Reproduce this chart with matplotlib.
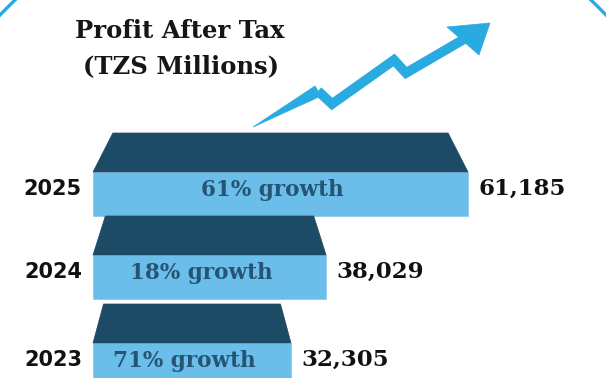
import matplotlib.pyplot as plt
from matplotlib.patches import Polygon, Circle
from matplotlib.lines import Line2D

years = ['2025', '2024', '2023']
profit = [61185, 38029, 32305]          # TZS millions
growth = ['61% growth', '18% growth', '71% growth']

light = '#6bbee9'
dark = '#1d4a64'
cyan = '#29abe2'
label_blue = '#245574'

W, H = 606, 378
fig = plt.figure(figsize=(W / 100, H / 100), dpi=100)

# background layer in pixel units for the decorations and the title
deco = fig.add_axes([0, 0, 1, 1])
deco.set_xlim(0, W)
deco.set_ylim(H, 0)
deco.axis('off')

# big framing ring, only its top corners show
deco.add_patch(Circle((303, 303), 418, fill=False, ec=cyan, lw=2.4))

# zig-zag growth arrow
tail = (253, 127)
pts = [(318, 91), (332, 104), (394, 60), (406, 73), (466, 38)]
deco.add_patch(Polygon([tail, (pts[0][0] - 3, pts[0][1] - 5),
                        (pts[0][0] + 3, pts[0][1] + 5)],
                       closed=True, fc=cyan, ec=cyan, lw=0.5))
deco.add_line(Line2D([p[0] for p in pts], [p[1] for p in pts], color=cyan,
                     lw=7, solid_joinstyle='miter', solid_capstyle='butt'))
deco.add_patch(Polygon([(490, 23), (447, 27), (479, 55)], closed=True,
                       fc=cyan, ec=cyan, lw=0.5))

deco.text(180, 31, 'Profit After Tax', ha='center', va='center',
          family='DejaVu Serif', weight='bold', fontsize=17.5, color='#161616')
deco.text(181, 66, '(TZS Millions)', ha='center', va='center',
          family='DejaVu Serif', weight='bold', fontsize=17.5, color='#161616')

# bar layer: x in TZS millions, y in pixels
bar_left = 93
longest = 375
u = max(profit) / longest
ax = fig.add_axes([0, 0, 1, 1])
ax.patch.set_alpha(0)
ax.set_xlim(-bar_left * u, (W - bar_left) * u)
ax.set_ylim(H, 0)
ax.axis('off')

front_top = [172, 255, 343]
front_h = 44
top_h = 39
centres = [t + front_h / 2 for t in front_top]

ax.barh(centres, profit, height=front_h, left=0, color=light,
        edgecolor='#8fcbec', linewidth=0.6)

for yr, v, g, t, c in zip(years, profit, growth, front_top, centres):
    inset = 0.053 * v
    ax.add_patch(Polygon([(0, t), (v, t), (v - inset, t - top_h),
                          (inset, t - top_h)], closed=True, fc=dark, ec=dark,
                         lw=0.5))
    ax.annotate(yr, (0, c), xytext=(-11, 5), textcoords='offset pixels',
                ha='right', va='center', family='DejaVu Sans', weight='bold',
                fontsize=15, color='#111111')
    ax.annotate(f'{v:,}', (v, c), xytext=(10, 5), textcoords='offset pixels',
                ha='left', va='center', family='DejaVu Serif', weight='bold',
                fontsize=16.5, color='#111111')
    ax.annotate(g, (v / 2, c), xytext=(-8, 4), textcoords='offset pixels',
                ha='center', va='center', family='DejaVu Serif',
                weight='bold', fontsize=15.5, color=label_blue)

fig.savefig('out.png', dpi=100)
